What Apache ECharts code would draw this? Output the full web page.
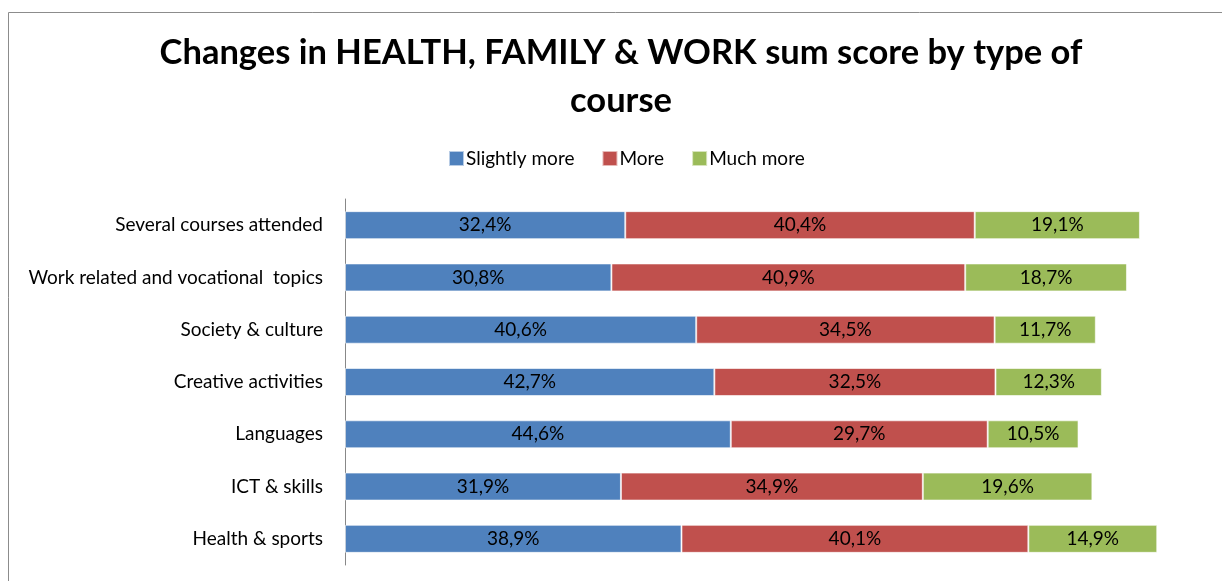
<!DOCTYPE html>
<html><head><meta charset="utf-8">
<script src="https://cdn.jsdelivr.net/npm/echarts@6/dist/echarts.min.js"></script>
<style>html,body{margin:0;padding:0;background:#fff}#c{width:1222px;height:581px}</style>
</head><body><div id="c"></div>
<script>
const categories = ["Several courses attended","Work related and vocational  topics","Society & culture","Creative activities","Languages","ICT & skills","Health & sports"];
const slightlyMore = [32.4, 30.8, 40.6, 42.7, 44.6, 31.9, 38.9];
const more = [40.4, 40.9, 34.5, 32.5, 29.7, 34.9, 40.1];
const muchMore = [19.1, 18.7, 11.7, 12.3, 10.5, 19.6, 14.9];
const seriesNames = ["Slightly more","More","Much more"];
const colors = ["#4F81BD","#C0504D","#9BBB59"];
const FONT = "Lato";
const chart = echarts.init(document.getElementById('c'));
const fmt = p => p.value.toFixed(1).replace('.', ',') + '%';
const mk = (name, data, color) => ({
  name, type: 'bar', stack: 'a', data, barCategoryGap: '46.5%',
  itemStyle: {color, borderColor: 'rgba(255,255,255,0.6)', borderWidth: 1},
  label: {show: true, position: 'inside', formatter: fmt, color: '#000', fontSize: 19, fontFamily: FONT},
  emphasis: {disabled: true}, animation: false
});
chart.setOption({
  animation: false,
  title: {text: 'Changes in HEALTH, FAMILY & WORK sum score by type of\ncourse', left: 616, textAlign: 'center', top: 24,
    textStyle: {fontFamily: FONT, fontWeight: 'bold', fontSize: 34.5, color: '#000', lineHeight: 48}},
  legend: {data: seriesNames, top: 144, left: 443, itemWidth: 15, itemHeight: 15, itemGap: 27,
    icon: 'rect', textStyle: {fontFamily: FONT, fontSize: 19, color: '#000', padding: [0,0,0,-3]}},
  graphic: [{type: 'rect', shape: {x: 8.5, y: 12.5, width: 1400, height: 700}, style: {fill: 'none', stroke: '#8c8c8c', lineWidth: 1}, silent: true}],
  grid: {left: 345, top: 199, width: 865, height: 366},
  xAxis: {type: 'value', min: 0, max: 100, show: false},
  yAxis: {type: 'category', data: categories, inverse: true,
    axisLine: {lineStyle: {color: '#888', width: 1}}, axisTick: {show: false},
    axisLabel: {fontFamily: FONT, fontSize: 19, color: '#000', margin: 22}},
  series: [mk(seriesNames[0], slightlyMore, colors[0]), mk(seriesNames[1], more, colors[1]), mk(seriesNames[2], muchMore, colors[2])]
});
</script></body></html>
